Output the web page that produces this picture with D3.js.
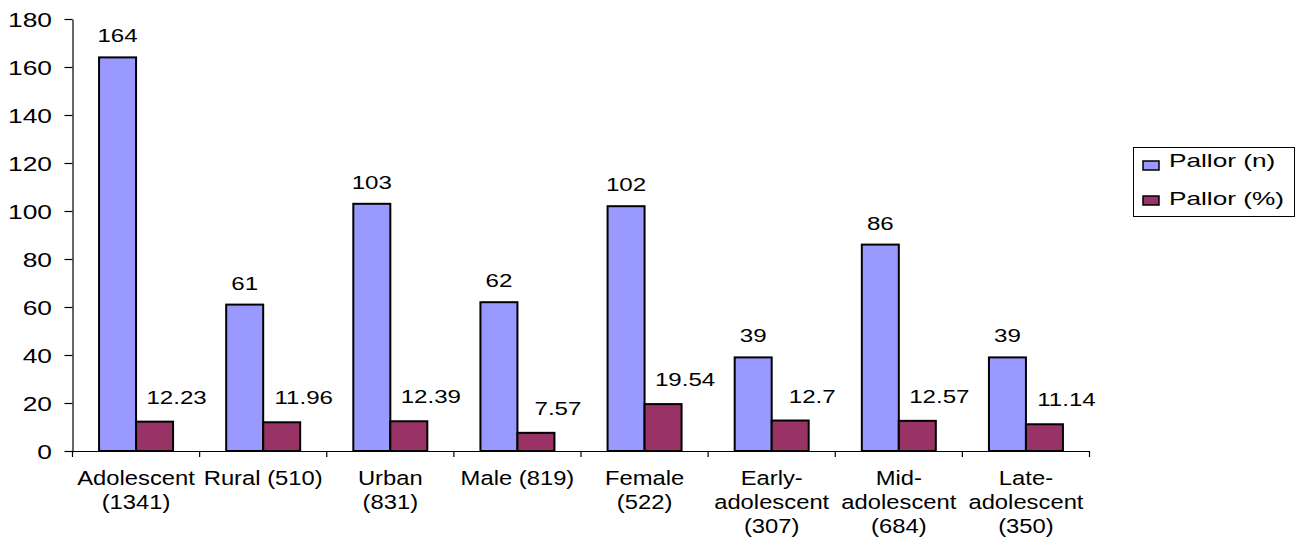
<!DOCTYPE html>
<html>
<head>
<meta charset="utf-8">
<script src="https://cdn.jsdelivr.net/npm/d3@7"></script>
<style>
  html, body { margin: 0; padding: 0; background: #fff; }
  svg text { font-family: "Liberation Sans", Arial, sans-serif; fill: #000; }
</style>
</head>
<body>
<svg id="chart" width="1300" height="537"></svg>
<script>
// Category labels (line breaks as printed under the axis)
const categories = [
  "Adolescent\n(1341)",
  "Rural (510)",
  "Urban\n(831)",
  "Male (819)",
  "Female\n(522)",
  "Early-\nadolescent\n(307)",
  "Mid-\nadolescent\n(684)",
  "Late-\nadolescent\n(350)"
];
const seriesNames = ["Pallor (n)", "Pallor (%)"];
const pallorCount = [164, 61, 103, 62, 102, 39, 86, 39];
const pallorPercent = [12.23, 11.96, 12.39, 7.57, 19.54, 12.7, 12.57, 11.14];
const yTicks = [0, 20, 40, 60, 80, 100, 120, 140, 160, 180];

const colors = ["#9999FF", "#993366"];

const svg = d3.select("#chart");
const plotLeft = 72.5, plotRight = 1089.5, plotTop = 19, plotBottom = 451;

const y = d3.scaleLinear().domain([0, 180]).range([plotBottom, plotTop]);
const x0 = d3.scaleBand().domain(categories).range([plotLeft, plotRight]).padding(0);
const x1 = d3.scaleBand().domain(seriesNames).range([0, x0.bandwidth()])
  .paddingInner(0).paddingOuter(0.718);

const rows = categories.map((c, i) => ({
  cat: c,
  vals: [
    { s: seriesNames[0], v: pallorCount[i], k: 0 },
    { s: seriesNames[1], v: pallorPercent[i], k: 1 }
  ]
}));

// Horizontally widened text, as in the printed chart
function wideText(sel, sx) {
  sel.each(function () {
    const t = d3.select(this);
    const px = +t.attr("data-x"), py = +t.attr("data-y");
    t.attr("transform", `translate(${px},${py}) scale(${sx},1)`);
  });
}

// Bars
const groups = svg.append("g").selectAll("g").data(rows).join("g")
  .attr("transform", d => `translate(${x0(d.cat)},0)`);

groups.selectAll("rect").data(d => d.vals).join("rect")
  .attr("x", d => x1(d.s))
  .attr("y", d => y(d.v))
  .attr("width", x1.bandwidth())
  .attr("height", d => y(0) - y(d.v))
  .attr("fill", d => colors[d.k])
  .attr("stroke", "#000")
  .attr("stroke-width", 2);

// Value labels
const valueLabels = svg.append("g").selectAll("text")
  .data(rows.flatMap(r => r.vals.map(v => ({ ...v, cat: r.cat }))))
  .join("text")
  .attr("text-anchor", "middle")
  .attr("font-size", 19)
  .attr("data-x", d => x0(d.cat) + x1(d.s) + x1.bandwidth() / 2 + (d.k === 1 ? 22 : 0))
  .attr("data-y", d => y(d.v) - (d.k === 1 ? 18 : 15))
  .text(d => String(d.v));
wideText(valueLabels, 1.27);

// Y axis
const yAxis = svg.append("g")
  .attr("transform", `translate(${plotLeft},0)`)
  .call(d3.axisLeft(y).tickValues(yTicks).tickSize(8).tickSizeOuter(0).tickFormat(d3.format("d")));
yAxis.select(".domain").attr("stroke", "#000").attr("stroke-width", 1.2);
yAxis.selectAll(".tick line").attr("stroke", "#000").attr("stroke-width", 1.2);
yAxis.selectAll(".tick text")
  .attr("font-size", 20)
  .attr("x", null).attr("dy", null)
  .attr("text-anchor", "end")
  .attr("font-family", "Liberation Sans, Arial, sans-serif")
  .attr("data-x", -20.5)
  .attr("data-y", 7);
wideText(yAxis.selectAll(".tick text"), 1.32);

// X axis line with separators between categories
svg.append("line")
  .attr("x1", plotLeft).attr("x2", plotRight)
  .attr("y1", plotBottom + 0.5).attr("y2", plotBottom + 0.5)
  .attr("stroke", "#000").attr("stroke-width", 1.2);
const sepPositions = categories.map(c => x0(c)).concat([plotRight]);
svg.append("g").selectAll("line").data(sepPositions).join("line")
  .attr("x1", d => d).attr("x2", d => d)
  .attr("y1", plotBottom).attr("y2", plotBottom + 6)
  .attr("stroke", "#000").attr("stroke-width", 1.2);

// Category labels
const catLabels = svg.append("g").selectAll("g").data(categories).join("g");
catLabels.each(function (c) {
  const lines = c.split("\n");
  const g = d3.select(this);
  const t = g.selectAll("text").data(lines).join("text")
    .attr("text-anchor", "middle")
    .attr("font-size", 19.5)
    .attr("data-x", x0(c) + x0.bandwidth() / 2)
    .attr("data-y", (d, i) => 484.5 + i * 24)
    .text(d => d);
  wideText(t, 1.22);
});

// Legend
const legend = svg.append("g");
legend.append("rect")
  .attr("x", 1133.5).attr("y", 147.5).attr("width", 161).attr("height", 69)
  .attr("fill", "#fff").attr("stroke", "#000").attr("stroke-width", 1);
const items = legend.selectAll("g.item").data(seriesNames).join("g").attr("class", "item");
items.append("rect")
  .attr("x", 1143).attr("y", (d, i) => 161 + i * 35)
  .attr("width", 16).attr("height", 9)
  .attr("fill", (d, i) => colors[i])
  .attr("stroke", "#000").attr("stroke-width", 1.5);
const legText = items.append("text")
  .attr("font-size", 19)
  .attr("data-x", 1169)
  .attr("data-y", (d, i) => 167 + i * 38)
  .text(d => d);
wideText(legText, 1.38);
</script>
</body>
</html>
